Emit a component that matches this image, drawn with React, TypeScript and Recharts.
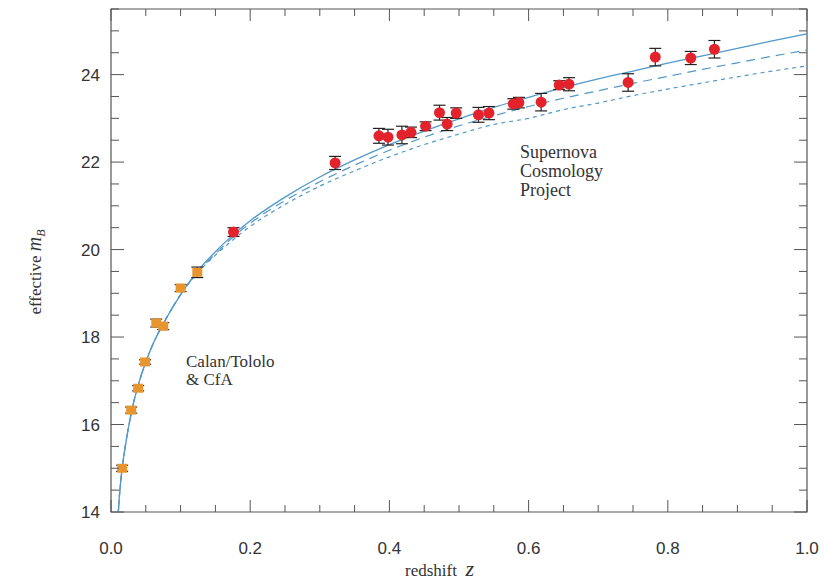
import React from 'react'
import {
  ComposedChart, Line, Scatter, XAxis, YAxis, ErrorBar, ReferenceArea,
} from 'recharts'

// model curves
const zCurve = [0.0105, 0.012, 0.016, 0.02, 0.03, 0.04, 0.05, 0.06, 0.075, 0.1, 0.125, 0.15, 0.175, 0.2, 0.25, 0.3, 0.35, 0.4, 0.45, 0.5, 0.55, 0.6, 0.65, 0.7, 0.75, 0.8, 0.85, 0.9, 0.95, 1.0]
const mSolid  = [14.0, 14.35, 15.0, 15.45, 16.33, 16.95, 17.43, 17.83, 18.3, 18.97, 19.52, 19.95, 20.33, 20.66, 21.2, 21.66, 22.05, 22.4, 22.71, 22.99, 23.25, 23.48, 23.7, 23.9, 24.08, 24.26, 24.43, 24.6, 24.77, 24.93]
const mDashed = [14.0, 14.35, 15.0, 15.45, 16.33, 16.95, 17.43, 17.83, 18.3, 18.97, 19.5, 19.9, 20.28, 20.6, 21.12, 21.55, 21.93, 22.27, 22.57, 22.83, 23.06, 23.27, 23.46, 23.63, 23.8, 23.96, 24.12, 24.27, 24.42, 24.56]
const mDotted = [14.0, 14.35, 15.0, 15.45, 16.33, 16.95, 17.43, 17.83, 18.3, 18.97, 19.48, 19.87, 20.22, 20.53, 21.03, 21.45, 21.8, 22.12, 22.4, 22.64, 22.86, 23.0, 23.2, 23.35, 23.52, 23.67, 23.81, 23.95, 24.08, 24.2]

// Calan/Tololo & CfA supernovae
const zLow   = [0.016, 0.029, 0.039, 0.049, 0.065, 0.075, 0.1, 0.124]
const mLow   = [15.0, 16.33, 16.83, 17.43, 18.32, 18.25, 19.12, 19.48]
const errLow = [0.07, 0.07, 0.06, 0.05, 0.09, 0.08, 0.08, 0.12]

// Supernova Cosmology Project
const zHigh   = [0.176, 0.322, 0.385, 0.398, 0.418, 0.431, 0.452, 0.472, 0.483, 0.496, 0.528, 0.543, 0.578, 0.586, 0.618, 0.644, 0.658, 0.743, 0.782, 0.833, 0.867]
const mHigh   = [20.4, 21.98, 22.6, 22.57, 22.62, 22.68, 22.82, 23.13, 22.87, 23.12, 23.08, 23.12, 23.33, 23.36, 23.37, 23.76, 23.78, 23.82, 24.4, 24.38, 24.58]
const errHigh = [0.1, 0.15, 0.17, 0.18, 0.2, 0.12, 0.1, 0.17, 0.15, 0.12, 0.17, 0.15, 0.12, 0.12, 0.2, 0.1, 0.15, 0.2, 0.2, 0.15, 0.2]

const xTicks = [0, 0.05, 0.1, 0.15, 0.2, 0.25, 0.3, 0.35, 0.4, 0.45, 0.5, 0.55, 0.6, 0.65, 0.7, 0.75, 0.8, 0.85, 0.9, 0.95, 1.0]
const xLabels = [0, 0.2, 0.4, 0.6, 0.8, 1.0]
const yTicks = [14, 14.5, 15, 15.5, 16, 16.5, 17, 17.5, 18, 18.5, 19, 19.5, 20, 20.5, 21, 21.5, 22, 22.5, 23, 23.5, 24, 24.5, 25, 25.5]
const yLabels = [14, 16, 18, 20, 22, 24]

const W = 825
const H = 584
const M = { top: 9, right: 18, bottom: 12, left: 51 }
const PLOT_TOP = M.top
const PLOT_RIGHT = W - M.right

const curve = (ys: number[]) => zCurve.map((z, i) => ({ z, m: ys[i] }))
const lowData = zLow.map((z, i) => ({ z, m: mLow[i], err: errLow[i] }))
const highData = zHigh.map((z, i) => ({ z, m: mHigh[i], err: errHigh[i] }))

const isLabel = (v: number, list: number[]) => list.some(l => Math.abs(l - v) < 1e-6)

const tickFont = { fontFamily: '"Liberation Sans", Arial, sans-serif', fontSize: 17, fill: '#333' }
const frame = '#555'
const curveColor = '#5298c8'

function XTick({ x, y, payload }: any) {
  const major = isLabel(payload.value, xLabels)
  const len = major ? 12 : 7
  return (
    <g>
      <line x1={x} x2={x} y1={y} y2={y - len} stroke={frame} strokeWidth={1} />
      <line x1={x} x2={x} y1={PLOT_TOP} y2={PLOT_TOP + len} stroke={frame} strokeWidth={1} />
      {major && (
        <text x={x} y={y + 42} textAnchor="middle" {...tickFont}>
          {payload.value.toFixed(1)}
        </text>
      )}
    </g>
  )
}

function YTick({ x, y, payload }: any) {
  const major = isLabel(payload.value, yLabels)
  const len = major ? 13 : 8
  return (
    <g>
      <line x1={x} x2={x + len} y1={y} y2={y} stroke={frame} strokeWidth={1} />
      <line x1={PLOT_RIGHT} x2={PLOT_RIGHT - len} y1={y} y2={y} stroke={frame} strokeWidth={1} />
      {major && (
        <text x={x - 11} y={y + 6} textAnchor="end" {...tickFont}>
          {payload.value}
        </text>
      )}
    </g>
  )
}

const RedDot = ({ cx, cy }: any) => <circle cx={cx} cy={cy} r={5.5} fill="#e3222b" />
const OrangeSq = ({ cx, cy }: any) => <rect x={cx - 5} y={cy - 4.5} width={10} height={9} fill="#e8952f" />

const serif = '"Liberation Serif", "DejaVu Serif", serif'

export default function App() {
  return (
    <div style={{ position: 'absolute', left: 0, top: 0, width: W, height: H, background: '#fff' }}>
      <ComposedChart width={W} height={H} margin={M}>
        <XAxis
          type="number"
          dataKey="z"
          domain={[0, 1]}
          ticks={xTicks}
          interval={0}
          allowDataOverflow
          tickSize={0}
          tickMargin={0}
          tickLine={false}
          axisLine={false}
          tick={<XTick />}
          height={60}
        />
        <YAxis
          type="number"
          dataKey="m"
          domain={[14, 25.5]}
          ticks={yTicks}
          interval={0}
          allowDataOverflow
          tickSize={0}
          tickMargin={0}
          tickLine={false}
          axisLine={false}
          tick={<YTick />}
          width={60}
        />
        <ReferenceArea x1={0} x2={1} y1={14} y2={25.5} fill="none" stroke={frame} strokeWidth={1.2} />

        <Line data={curve(mDotted)} dataKey="m" type="monotone" stroke={curveColor} strokeWidth={1.2}
          strokeDasharray="4 4" dot={false} isAnimationActive={false} />
        <Line data={curve(mDashed)} dataKey="m" type="monotone" stroke={curveColor} strokeWidth={1.2}
          strokeDasharray="9 6" dot={false} isAnimationActive={false} />
        <Line data={curve(mSolid)} dataKey="m" type="monotone" stroke={curveColor} strokeWidth={1.3}
          dot={false} isAnimationActive={false} />

        <Scatter data={lowData} dataKey="m" shape={<OrangeSq />} isAnimationActive={false}>
          <ErrorBar dataKey="err" direction="y" width={6} stroke="#222" strokeWidth={1.2} />
        </Scatter>
        <Scatter data={highData} dataKey="m" shape={<RedDot />} isAnimationActive={false}>
          <ErrorBar dataKey="err" direction="y" width={6} stroke="#222" strokeWidth={1.2} />
        </Scatter>
      </ComposedChart>

      <div style={{ position: 'absolute', left: 520, top: 143, fontFamily: serif, fontSize: 18, lineHeight: '19px', color: '#333' }}>
        Supernova<br />Cosmology<br />Project
      </div>
      <div style={{ position: 'absolute', left: 186, top: 353, fontFamily: serif, fontSize: 17, lineHeight: '18px', color: '#333' }}>
        Calan/Tololo<br />&amp; CfA
      </div>
      <div style={{ position: 'absolute', left: 405, top: 558, whiteSpace: 'nowrap', fontFamily: serif, fontSize: 17, lineHeight: '22px', color: '#333' }}>
        redshift&nbsp;&nbsp;<i style={{ fontSize: 22 }}>z</i>
      </div>
      <div style={{
        position: 'absolute', left: 36, top: 272, transform: 'translate(-50%, -50%) rotate(-90deg)',
        whiteSpace: 'nowrap', fontFamily: serif, fontSize: 17, color: '#333',
      }}>
        effective <i style={{ fontSize: 20 }}>m</i><sub style={{ fontSize: 12, fontStyle: 'italic' }}>B</sub>
      </div>
    </div>
  )
}
